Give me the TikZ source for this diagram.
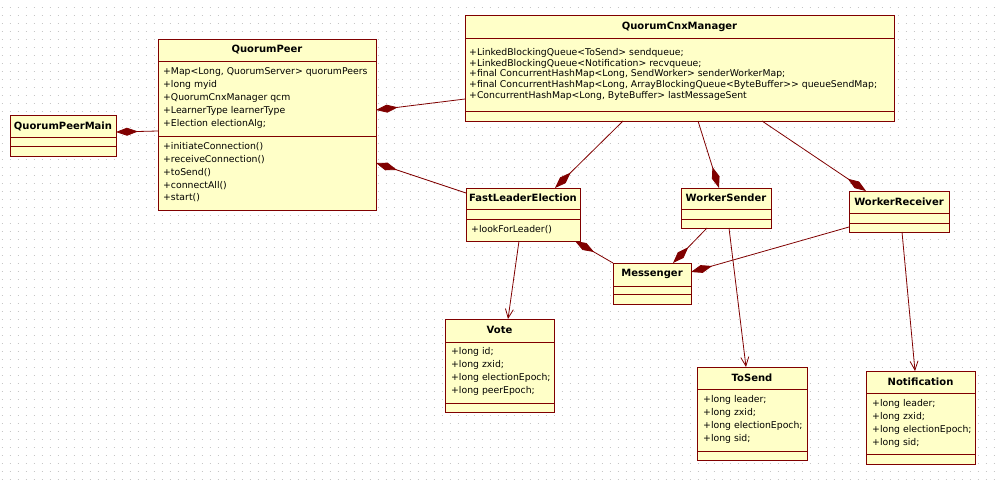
\documentclass[tikz,border=0pt]{standalone}
\usepackage{fontspec}
\setmainfont{DejaVu Sans}[Ligatures=TeXOff]
\usepackage{xcolor}
\usepackage{tikz}
\usetikzlibrary{arrows.meta}
\definecolor{umlred}{HTML}{800000}
\definecolor{umlfill}{HTML}{FFFFC8}

\begin{document}
\begin{tikzpicture}[x=1pt, y=-1pt,
  classbox/.style={draw=umlred, fill=umlfill, line width=1pt, anchor=north west, inner sep=0pt, outer sep=0pt},
  divider/.style={draw=umlred, line width=1pt},
  classname/.style={font=\fontsize{10}{12}\selectfont\bfseries, inner sep=0pt},
  member/.style={font=\fontsize{9.3}{11}\selectfont, anchor=west, inner sep=0pt},
  compo/.style={draw=umlred, line width=0.8pt, -{Diamond[length=22pt,width=8pt]}},
  navi/.style={draw=umlred, line width=0.8pt, -{Straight Barb[length=9pt,width=8pt]}}]
% paper with dotted grid
\fill[white] (0,0) rectangle (998,480);
\useasboundingbox (0,0) rectangle (998,480);
\foreach \gy in {7,15,...,479} {
  \draw[gray!45, line width=1pt, dash pattern=on 1pt off 7pt] (1.5,\gy) -- (998,\gy);
}

% QuorumPeerMain
\node[classbox, minimum width=106pt, minimum height=41pt] (qpm) at (10,115) {};
\node[classname] (qpm-t) at (qpm.north |- 0,126) {QuorumPeerMain};
\draw[divider] (qpm.west |- 0,137) -- (qpm.east |- 0,137);
\draw[divider] (qpm.west |- 0,146) -- (qpm.east |- 0,146);

% QuorumPeer
\node[classbox, minimum width=218pt, minimum height=171pt] (qpeer) at (158,39) {};
\node[classname] (qpeer-t) at (qpeer.north |- 0,50) {QuorumPeer};
\draw[divider] (qpeer.west |- 0,61) -- (qpeer.east |- 0,61);
\draw[divider] (qpeer.west |- 0,136) -- (qpeer.east |- 0,136);
\foreach \t [count=\i] in {{+Map<Long, QuorumServer> quorumPeers}, {+long myid},
    {+QuorumCnxManager qcm}, {+LearnerType learnerType}, {+Election electionAlg;}} {
  \node[member] (qpeer-a\i) at (163,{59+13*\i}) {\t};
}
\foreach \t [count=\i] in {{+initiateConnection()}, {+receiveConnection()},
    {+toSend()}, {+connectAll()}, {+start()}} {
  \node[member] (qpeer-m\i) at (163,{134.25+12.75*\i}) {\t};
}

% QuorumCnxManager
\node[classbox, minimum width=429pt, minimum height=106pt] (qcm) at (465,15) {};
\node[classname] (qcm-t) at (qcm.north |- 0,27) {QuorumCnxManager};
\draw[divider] (qcm.west |- 0,38) -- (qcm.east |- 0,38);
\draw[divider] (qcm.west |- 0,111) -- (qcm.east |- 0,111);
\foreach \t [count=\i] in {{+LinkedBlockingQueue<ToSend> sendqueue;},
    {+LinkedBlockingQueue<Notification> recvqueue;},
    {+final ConcurrentHashMap<Long, SendWorker> senderWorkerMap;},
    {+final ConcurrentHashMap<Long, ArrayBlockingQueue<ByteBuffer>> queueSendMap;},
    {+ConcurrentHashMap<Long, ByteBuffer> lastMessageSent}} {
  \node[member] (qcm-a\i) at (469,{41.9+10.8*\i}) {\t};
}

% FastLeaderElection
\node[classbox, minimum width=114pt, minimum height=53pt] (fle) at (466,188) {};
\node[classname] (fle-t) at (fle.north |- 0,198) {FastLeaderElection};
\draw[divider] (fle.west |- 0,209) -- (fle.east |- 0,209);
\draw[divider] (fle.west |- 0,219) -- (fle.east |- 0,219);
\node[member] (fle-m1) at (471,229.5) {+lookForLeader()};

% WorkerSender
\node[classbox, minimum width=90pt, minimum height=40pt] (ws) at (681,188) {};
\node[classname] (ws-t) at (ws.north |- 0,198) {WorkerSender};
\draw[divider] (ws.west |- 0,209) -- (ws.east |- 0,209);
\draw[divider] (ws.west |- 0,219) -- (ws.east |- 0,219);

% WorkerReceiver
\node[classbox, minimum width=100pt, minimum height=41pt] (wr) at (849,191) {};
\node[classname] (wr-t) at (wr.north |- 0,202) {WorkerReceiver};
\draw[divider] (wr.west |- 0,213) -- (wr.east |- 0,213);
\draw[divider] (wr.west |- 0,223) -- (wr.east |- 0,223);

% Messenger
\node[classbox, minimum width=78pt, minimum height=41pt] (msg) at (613,263) {};
\node[classname] (msg-t) at (msg.north |- 0,274) {Messenger};
\draw[divider] (msg.west |- 0,286) -- (msg.east |- 0,286);
\draw[divider] (msg.west |- 0,294) -- (msg.east |- 0,294);

% Vote
\node[classbox, minimum width=109pt, minimum height=93pt] (vote) at (445,319) {};
\node[classname] (vote-t) at (vote.north |- 0,330) {Vote};
\draw[divider] (vote.west |- 0,342) -- (vote.east |- 0,342);
\draw[divider] (vote.west |- 0,403) -- (vote.east |- 0,403);
\foreach \t [count=\i] in {{+long id;}, {+long zxid;}, {+long electionEpoch;}, {+long peerEpoch;}} {
  \node[member] (vote-a\i) at (451,{339+13*\i}) {\t};
}

% ToSend
\node[classbox, minimum width=110pt, minimum height=93pt] (tosend) at (697,367) {};
\node[classname] (tosend-t) at (tosend.north |- 0,378) {ToSend};
\draw[divider] (tosend.west |- 0,389) -- (tosend.east |- 0,389);
\draw[divider] (tosend.west |- 0,451) -- (tosend.east |- 0,451);
\foreach \t [count=\i] in {{+long leader;}, {+long zxid;}, {+long electionEpoch;}, {+long sid;}} {
  \node[member] (tosend-a\i) at (703,{387+13*\i}) {\t};
}

% Notification
\node[classbox, minimum width=109pt, minimum height=93pt] (notif) at (866,371) {};
\node[classname] (notif-t) at (notif.north |- 0,382) {Notification};
\draw[divider] (notif.west |- 0,393) -- (notif.east |- 0,393);
\draw[divider] (notif.west |- 0,454) -- (notif.east |- 0,454);
\foreach \t [count=\i] in {{+long leader;}, {+long zxid;}, {+long electionEpoch;}, {+long sid;}} {
  \node[member] (notif-a\i) at (872,{391+13*\i}) {\t};
}

% compositions
\draw[compo] (qpeer.west |- 0,131) -- (qpm.east |- 0,132);
\draw[compo] (qcm.west |- 0,99) -- (qpeer.east |- 0,110);
\draw[compo] (fle.west |- 0,193) -- (qpeer.east |- 0,163);
\draw[compo] (qcm.south -| 623,0) -- (fle.north -| 555,0);
\draw[compo] (qcm.south -| 698,0) -- (ws.north -| 719,0);
\draw[compo] (qcm.south -| 762,0) -- (wr.north -| 866,0);
\draw[compo] (msg.north west) -- (fle.south -| 575,0);
\draw[compo] (ws.south -| 707,0) -- (msg.north -| 673,0);
\draw[compo] (wr.west |- 0,227) -- (msg.east |- 0,272);

% navigable associations
\draw[navi] (fle.south -| 519,0) -- (vote.north -| 508,0);
\draw[navi] (ws.south -| 729,0) -- (tosend.north -| 746,0);
\draw[navi] (wr.south -| 902,0) -- (notif.north -| 915,0);
\end{tikzpicture}
\end{document}
